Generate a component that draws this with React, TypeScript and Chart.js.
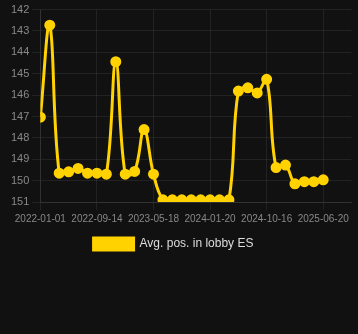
import React, { useEffect, useRef } from "react";
import { Chart, registerables } from "chart.js";

Chart.register(...registerables);

const dateLabels: string[] = [
  "2022-01-01", "2022-02-12", "2022-03-26", "2022-05-07", "2022-06-18", "2022-07-31",
  "2022-09-14", "2022-10-26", "2022-12-06", "2023-01-16", "2023-02-25", "2023-04-07",
  "2023-05-18", "2023-06-28", "2023-08-08", "2023-09-18", "2023-10-29", "2023-12-09",
  "2024-01-20", "2024-03-05", "2024-04-19", "2024-06-03", "2024-07-18", "2024-09-01",
  "2024-10-16", "2024-11-26", "2025-01-06", "2025-02-16", "2025-03-29", "2025-05-09",
  "2025-06-20",
];

const avgPosition: number[] = [
  147.03, 142.73, 149.65, 149.59, 149.43, 149.65, 149.65, 149.7, 144.44, 149.7,
  149.57, 147.61, 149.7, 150.9, 150.9, 150.9, 150.9, 150.9, 150.9, 150.9,
  150.9, 145.81, 145.66, 145.9, 145.26, 149.39, 149.27, 150.15, 150.05, 150.05,
  149.96,
];

const seriesLabel = "Avg. pos. in lobby ES";
const yTicks = { min: 142, max: 151, step: 1 };
const xTickEvery = 6;
const xAxisEnd = 33;

const GOLD = "#ffd200";
const GRID = "rgba(255,255,255,0.075)";

export default function App() {
  const ref = useRef<HTMLCanvasElement | null>(null);

  useEffect(() => {
    document.body.style.margin = "0";
    document.body.style.background = "#111111";
    document.documentElement.style.background = "#111111";
    if (!ref.current) return;
    const legendShift = {
      id: "legendShift",
      afterLayout(chart: any) {
        if (chart.legend) chart.legend.left -= 19;
      },
    };
    const chart = new Chart(ref.current, {
      type: "line",
      data: {
        datasets: [
          {
            label: seriesLabel,
            data: avgPosition.map((v, i) => ({ x: i, y: v })),
            borderColor: GOLD,
            backgroundColor: GOLD,
            borderWidth: 3,
            pointRadius: 4.5,
            pointBorderWidth: 2,
            pointBackgroundColor: GOLD,
            pointBorderColor: GOLD,
            tension: 0.4,
            fill: false,
          },
        ],
      },
      options: {
        animation: false,
        responsive: false,
        devicePixelRatio: 1,
        layout: { padding: { left: 8, right: 0, top: 0, bottom: 0 } },
        scales: {
          x: {
            type: "linear",
            min: 0,
            max: xAxisEnd,
            grid: { color: GRID },
            border: { color: GRID },
            ticks: {
              stepSize: xTickEvery,
              includeBounds: false,
              autoSkip: false,
              maxRotation: 0,
              color: "#888",
              font: { size: 10 },
              callback: (v: any) => dateLabels[Number(v)] ?? "",
            },
          },
          y: {
            reverse: true,
            min: yTicks.min,
            max: yTicks.max,
            grid: { color: GRID },
            border: { color: GRID },
            ticks: { stepSize: yTicks.step, color: "#888", font: { size: 11 } },
          },
        },
        plugins: {
          legend: {
            position: "bottom",
            labels: { color: "#ddd", font: { size: 12 }, boxWidth: 40 },
          },
          tooltip: { enabled: false },
        },
      },
      plugins: [legendShift],
    });
    return () => chart.destroy();
  }, []);

  return (
    <div style={{ width: 358, height: 334, background: "#111111" }}>
      <canvas ref={ref} width={358} height={260} style={{ display: "block" }} />
    </div>
  );
}
